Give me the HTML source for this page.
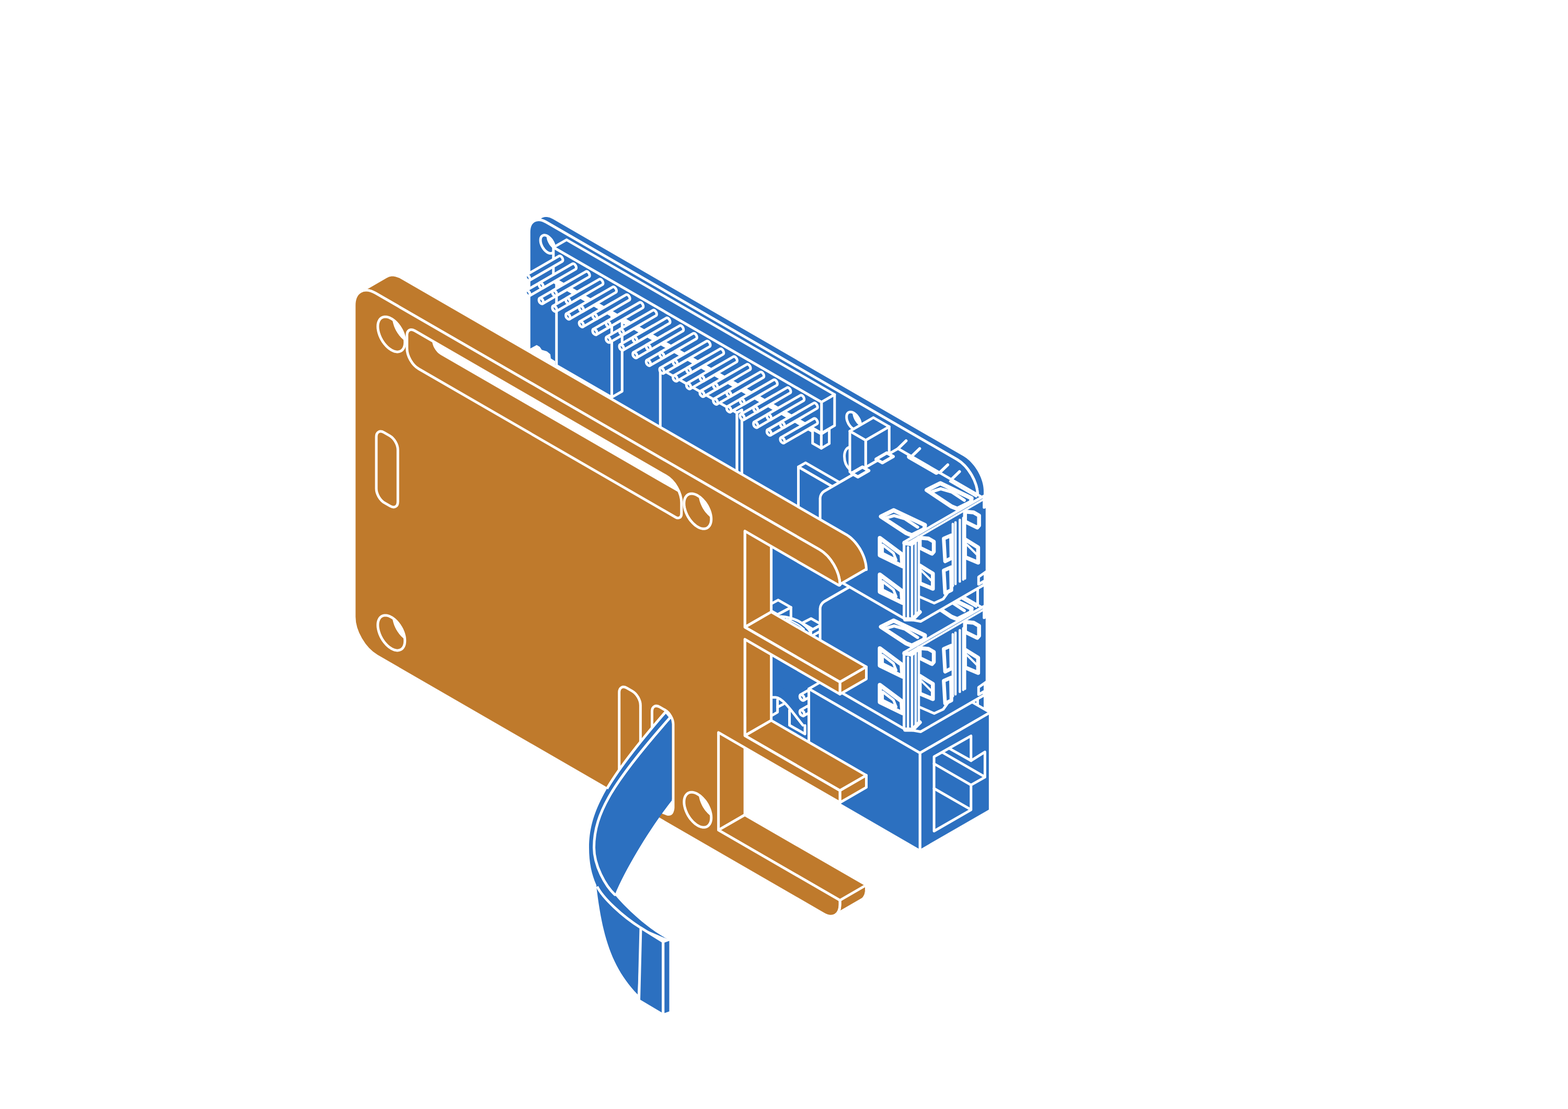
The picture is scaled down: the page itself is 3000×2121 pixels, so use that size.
<!DOCTYPE html>
<html><head><meta charset="utf-8"><title>Raspberry Pi case assembly</title>
<style>html,body{margin:0;padding:0;background:#fff;width:3000px;height:2121px;overflow:hidden}svg{display:block}</style></head>
<body><svg width="3000" height="2121" viewBox="0 0 3000 2121" stroke-linejoin="round" stroke-linecap="round">
<rect width="3000" height="2121" fill="#fff"/>
<path d="M1021.9 422.7 L1023.4 421.9 L1025 421.3 L1026.8 420.9 L1028.5 420.6 L1030.4 420.5 L1032.3 420.6 L1034.3 420.9 L1036.4 421.3 L1038.5 421.9 L1040.7 422.8 L1042.9 423.8 L1045.2 425 L1830.6 878.5 L1833.4 880.2 L1836 882 L1838.7 884.1 L1841.2 886.3 L1843.7 888.6 L1846.2 891.1 L1848.5 893.7 L1850.8 896.4 L1852.9 899.2 L1855 902.1 L1857 905.1 L1858.8 908.2 L1860.6 911.4 L1862.2 914.6 L1863.7 917.9 L1865 921.1 L1866.3 924.5 L1867.4 927.8 L1868.3 931.1 L1869.1 934.4 L1869.7 937.8 L1870.1 941 L1870.4 944.3 L1870.5 947.5 L1870.5 1554.5 L1884.5 1546.4 L1884.5 939.4 L1884.4 936.2 L1884.1 932.9 L1883.7 929.7 L1883.1 926.3 L1882.3 923 L1881.4 919.7 L1880.3 916.4 L1879.1 913 L1877.7 909.8 L1876.2 906.5 L1874.6 903.3 L1872.8 900.1 L1871 897 L1869 894 L1866.9 891.1 L1864.8 888.3 L1862.5 885.6 L1860.2 883 L1857.8 880.5 L1855.3 878.2 L1852.7 876 L1850.1 873.9 L1847.4 872.1 L1844.7 870.4 L1059.2 416.9 L1056.9 415.7 L1054.7 414.7 L1052.6 413.8 L1050.4 413.2 L1048.4 412.8 L1046.4 412.5 L1044.4 412.4 L1042.6 412.5 L1040.8 412.8 L1039.1 413.2 L1037.5 413.8 L1035.9 414.6 Z" fill="#2c70c0" stroke="#fff" stroke-width="5" />
<path d="M1012.2 444 C1012.2 423 1027 414.5 1045.2 425 L1830.6 878.5 C1852.6 891.2 1870.5 922.1 1870.5 947.5 L1870.5 1554.5 L1012.2 1059 Z" fill="#2c70c0" stroke="#fff" stroke-width="5" />
<path d="M1061.1 475 L1061 477 L1060.6 478.8 L1060.1 480.4 L1059.3 481.8 L1058.3 482.9 L1057.1 483.7 L1055.8 484.3 L1054.3 484.6 L1052.8 484.6 L1051.1 484.3 L1049.3 483.7 L1047.6 482.8 L1045.8 481.6 L1044.1 480.2 L1042.4 478.6 L1040.8 476.8 L1039.4 474.8 L1038 472.7 L1036.9 470.5 L1035.9 468.2 L1035.1 466 L1034.5 463.7 L1034.2 461.5 L1034.1 459.4 L1034.2 457.4 L1034.5 455.6 L1035.1 454 L1035.9 452.6 L1036.9 451.5 L1038 450.7 L1039.4 450.1 L1040.8 449.8 L1042.4 449.8 L1044.1 450.1 L1045.8 450.7 L1047.6 451.6 L1049.3 452.8 L1051.1 454.2 L1052.8 455.8 L1054.3 457.6 L1055.8 459.6 L1057.1 461.7 L1058.3 463.9 L1059.3 466.2 L1060.1 468.4 L1060.6 470.7 L1061 472.9 Z" fill="#2c70c0" stroke="none" stroke-width="5" />
<clipPath id="c1"><path d="M1061.1 475 L1061 477 L1060.6 478.8 L1060.1 480.4 L1059.3 481.8 L1058.3 482.9 L1057.1 483.7 L1055.8 484.3 L1054.3 484.6 L1052.8 484.6 L1051.1 484.3 L1049.3 483.7 L1047.6 482.8 L1045.8 481.6 L1044.1 480.2 L1042.4 478.6 L1040.8 476.8 L1039.4 474.8 L1038 472.7 L1036.9 470.5 L1035.9 468.2 L1035.1 466 L1034.5 463.7 L1034.2 461.5 L1034.1 459.4 L1034.2 457.4 L1034.5 455.6 L1035.1 454 L1035.9 452.6 L1036.9 451.5 L1038 450.7 L1039.4 450.1 L1040.8 449.8 L1042.4 449.8 L1044.1 450.1 L1045.8 450.7 L1047.6 451.6 L1049.3 452.8 L1051.1 454.2 L1052.8 455.8 L1054.3 457.6 L1055.8 459.6 L1057.1 461.7 L1058.3 463.9 L1059.3 466.2 L1060.1 468.4 L1060.6 470.7 L1061 472.9 Z"/></clipPath><g clip-path="url(#c1)">
<path d="M1075.1 466.9 L1075 468.9 L1074.7 470.7 L1074.1 472.3 L1073.3 473.7 L1072.3 474.8 L1071.2 475.6 L1069.8 476.2 L1068.4 476.5 L1066.8 476.5 L1065.1 476.2 L1063.4 475.6 L1061.6 474.7 L1059.9 473.5 L1058.1 472.1 L1056.4 470.5 L1054.9 468.7 L1053.4 466.7 L1052.1 464.6 L1050.9 462.4 L1049.9 460.1 L1049.1 457.9 L1048.6 455.6 L1048.2 453.4 L1048.1 451.3 L1048.2 449.3 L1048.6 447.5 L1049.1 445.9 L1049.9 444.5 L1050.9 443.4 L1052.1 442.6 L1053.4 442 L1054.9 441.7 L1056.4 441.7 L1058.1 442 L1059.9 442.6 L1061.6 443.5 L1063.4 444.7 L1065.1 446.1 L1066.8 447.7 L1068.4 449.5 L1069.8 451.5 L1071.2 453.6 L1072.3 455.8 L1073.3 458.1 L1074.1 460.3 L1074.7 462.6 L1075 464.8 Z" fill="#fff" stroke="#fff" stroke-width="5" />
</g>
<path d="M1061.1 475 L1061 477 L1060.6 478.8 L1060.1 480.4 L1059.3 481.8 L1058.3 482.9 L1057.1 483.7 L1055.8 484.3 L1054.3 484.6 L1052.8 484.6 L1051.1 484.3 L1049.3 483.7 L1047.6 482.8 L1045.8 481.6 L1044.1 480.2 L1042.4 478.6 L1040.8 476.8 L1039.4 474.8 L1038 472.7 L1036.9 470.5 L1035.9 468.2 L1035.1 466 L1034.5 463.7 L1034.2 461.5 L1034.1 459.4 L1034.2 457.4 L1034.5 455.6 L1035.1 454 L1035.9 452.6 L1036.9 451.5 L1038 450.7 L1039.4 450.1 L1040.8 449.8 L1042.4 449.8 L1044.1 450.1 L1045.8 450.7 L1047.6 451.6 L1049.3 452.8 L1051.1 454.2 L1052.8 455.8 L1054.3 457.6 L1055.8 459.6 L1057.1 461.7 L1058.3 463.9 L1059.3 466.2 L1060.1 468.4 L1060.6 470.7 L1061 472.9 Z" fill="none" stroke="#fff" stroke-width="5" />
<path d="M1646.7 813.1 L1646.6 815.1 L1646.2 816.9 L1645.7 818.5 L1644.9 819.9 L1643.9 821 L1642.7 821.8 L1641.4 822.4 L1639.9 822.7 L1638.4 822.7 L1636.7 822.4 L1635 821.8 L1633.2 820.9 L1631.4 819.7 L1629.7 818.3 L1628 816.7 L1626.4 814.9 L1625 812.9 L1623.6 810.8 L1622.5 808.6 L1621.5 806.3 L1620.7 804.1 L1620.1 801.8 L1619.8 799.6 L1619.7 797.5 L1619.8 795.5 L1620.1 793.7 L1620.7 792.1 L1621.5 790.7 L1622.5 789.6 L1623.6 788.8 L1625 788.2 L1626.4 787.9 L1628 787.9 L1629.7 788.2 L1631.4 788.8 L1633.2 789.7 L1635 790.9 L1636.7 792.3 L1638.4 793.9 L1639.9 795.7 L1641.4 797.7 L1642.7 799.8 L1643.9 802 L1644.9 804.3 L1645.7 806.5 L1646.2 808.8 L1646.6 811 Z" fill="#2c70c0" stroke="none" stroke-width="5" />
<clipPath id="c2"><path d="M1646.7 813.1 L1646.6 815.1 L1646.2 816.9 L1645.7 818.5 L1644.9 819.9 L1643.9 821 L1642.7 821.8 L1641.4 822.4 L1639.9 822.7 L1638.4 822.7 L1636.7 822.4 L1635 821.8 L1633.2 820.9 L1631.4 819.7 L1629.7 818.3 L1628 816.7 L1626.4 814.9 L1625 812.9 L1623.6 810.8 L1622.5 808.6 L1621.5 806.3 L1620.7 804.1 L1620.1 801.8 L1619.8 799.6 L1619.7 797.5 L1619.8 795.5 L1620.1 793.7 L1620.7 792.1 L1621.5 790.7 L1622.5 789.6 L1623.6 788.8 L1625 788.2 L1626.4 787.9 L1628 787.9 L1629.7 788.2 L1631.4 788.8 L1633.2 789.7 L1635 790.9 L1636.7 792.3 L1638.4 793.9 L1639.9 795.7 L1641.4 797.7 L1642.7 799.8 L1643.9 802 L1644.9 804.3 L1645.7 806.5 L1646.2 808.8 L1646.6 811 Z"/></clipPath><g clip-path="url(#c2)">
<path d="M1660.7 805 L1660.6 807 L1660.3 808.8 L1659.7 810.4 L1658.9 811.8 L1657.9 812.9 L1656.8 813.7 L1655.4 814.3 L1654 814.6 L1652.4 814.6 L1650.7 814.3 L1649 813.7 L1647.2 812.8 L1645.5 811.6 L1643.7 810.2 L1642 808.6 L1640.5 806.8 L1639 804.8 L1637.7 802.7 L1636.5 800.5 L1635.5 798.2 L1634.7 796 L1634.2 793.7 L1633.8 791.5 L1633.7 789.4 L1633.8 787.4 L1634.2 785.6 L1634.7 784 L1635.5 782.6 L1636.5 781.5 L1637.7 780.7 L1639 780.1 L1640.5 779.8 L1642 779.8 L1643.7 780.1 L1645.5 780.7 L1647.2 781.6 L1649 782.8 L1650.7 784.2 L1652.4 785.8 L1654 787.6 L1655.4 789.6 L1656.8 791.7 L1657.9 793.9 L1658.9 796.2 L1659.7 798.4 L1660.3 800.7 L1660.6 802.9 Z" fill="#fff" stroke="#fff" stroke-width="5" />
</g>
<path d="M1646.7 813.1 L1646.6 815.1 L1646.2 816.9 L1645.7 818.5 L1644.9 819.9 L1643.9 821 L1642.7 821.8 L1641.4 822.4 L1639.9 822.7 L1638.4 822.7 L1636.7 822.4 L1635 821.8 L1633.2 820.9 L1631.4 819.7 L1629.7 818.3 L1628 816.7 L1626.4 814.9 L1625 812.9 L1623.6 810.8 L1622.5 808.6 L1621.5 806.3 L1620.7 804.1 L1620.1 801.8 L1619.8 799.6 L1619.7 797.5 L1619.8 795.5 L1620.1 793.7 L1620.7 792.1 L1621.5 790.7 L1622.5 789.6 L1623.6 788.8 L1625 788.2 L1626.4 787.9 L1628 787.9 L1629.7 788.2 L1631.4 788.8 L1633.2 789.7 L1635 790.9 L1636.7 792.3 L1638.4 793.9 L1639.9 795.7 L1641.4 797.7 L1642.7 799.8 L1643.9 802 L1644.9 804.3 L1645.7 806.5 L1646.2 808.8 L1646.6 811 Z" fill="none" stroke="#fff" stroke-width="5" />
<path d="M1014 668 L1027 661 L1032 664 L1036 670 L1046 673 L1052 678 L1053 686 L1061 691 L1061 700 L1014 672 Z" fill="#fff" stroke="#fff" stroke-width="2" />
<path d="M1084.6 527.2 L1190.3 588.2 L1170.4 599.7 L1064.7 538.7 Z" fill="#2c70c0" stroke="#fff" stroke-width="5" />
<path d="M1190.3 588.2 L1190.3 748.3 L1170.4 759.8 L1170.4 599.7 Z" fill="#2c70c0" stroke="#fff" stroke-width="5" />
<path d="M1064.7 538.7 L1170.4 599.7 L1170.4 759.8 L1064.7 698.8 Z" fill="#2c70c0" stroke="#fff" stroke-width="5" />
<path d="M1419.4 784 L1419.4 941 L1409.8 946.5 L1409.8 789.5 Z" fill="#2c70c0" stroke="#fff" stroke-width="5" />
<path d="M1263.3 705 L1409.8 789.5 L1409.8 946.5 L1263.3 862 Z" fill="#2c70c0" stroke="#fff" stroke-width="5" />
<path d="M1541.3 885.1 L1618.5 929.6 L1604.7 937.6 L1527.5 893 Z" fill="#2c70c0" stroke="#fff" stroke-width="5" />
<path d="M1618.5 929.6 L1618.5 1056 L1604.7 1064 L1604.7 937.6 Z" fill="#2c70c0" stroke="#fff" stroke-width="5" />
<path d="M1527.5 893 L1604.7 937.6 L1604.7 1064 L1527.5 1019.4 Z" fill="#2c70c0" stroke="#fff" stroke-width="5" />
<path d="M1084 458.6 L1596.8 754.7 L1571.7 769.2 L1058.8 473.1 Z" fill="#2c70c0" stroke="#fff" stroke-width="5" />
<path d="M1596.8 754.7 L1596.8 813.9 L1571.7 828.4 L1571.7 769.2 Z" fill="#2c70c0" stroke="#fff" stroke-width="5" />
<path d="M1058.8 473.1 L1571.7 769.2 L1571.7 828.4 L1058.8 532.3 Z" fill="#2c70c0" stroke="#fff" stroke-width="5" />
<line x1="1062.3" y1="539.8" x2="1568.2" y2="831.9" stroke="#fff" stroke-width="7" stroke-linecap="round" />
<path d="M1554.7 820.7 L1554.7 847.9 L1571.4 857.3 L1571.4 830 Z" fill="#2c70c0" stroke="#fff" stroke-width="5" />
<path d="M1571.4 830 L1571.4 857.3 L1586.6 848.4 L1586.6 820.7 Z" fill="#2c70c0" stroke="#fff" stroke-width="5" />
<path d="M1012.7 566 L1075.7 529.6 L1076.3 529 L1076.8 528.1 L1076.9 526.9 L1076.8 525.5 L1076.3 524.1 L1075.7 522.7 L1074.8 521.4 L1073.8 520.4 L1072.7 519.5 L1071.6 519.1 L1070.5 519 L1069.7 519.3 L1006.7 555.6" fill="#2c70c0" stroke="#fff" stroke-width="5" />
<circle r="4.9" transform="matrix(0.8660 0.5 0 1 1009.7 560.8)" fill="#2c70c0" stroke="#fff" stroke-width="5" vector-effect="non-scaling-stroke" />
<path d="M1038.4 580.8 L1101.3 544.4 L1102 543.8 L1102.4 542.9 L1102.6 541.7 L1102.4 540.3 L1102 538.9 L1101.3 537.5 L1100.4 536.2 L1099.4 535.2 L1098.3 534.4 L1097.2 533.9 L1096.2 533.8 L1095.3 534.1 L1032.3 570.4" fill="#2c70c0" stroke="#fff" stroke-width="5" />
<circle r="4.9" transform="matrix(0.8660 0.5 0 1 1035.3 575.6)" fill="#2c70c0" stroke="#fff" stroke-width="5" vector-effect="non-scaling-stroke" />
<path d="M1064 595.6 L1127 559.2 L1127.6 558.6 L1128.1 557.7 L1128.2 556.5 L1128.1 555.1 L1127.6 553.7 L1127 552.3 L1126.1 551 L1125.1 550 L1124 549.1 L1122.9 548.7 L1121.8 548.6 L1121 548.9 L1058 585.2" fill="#2c70c0" stroke="#fff" stroke-width="5" />
<circle r="4.9" transform="matrix(0.8660 0.5 0 1 1061 590.4)" fill="#2c70c0" stroke="#fff" stroke-width="5" vector-effect="non-scaling-stroke" />
<path d="M1089.7 610.4 L1152.6 574 L1153.3 573.4 L1153.7 572.5 L1153.9 571.3 L1153.7 569.9 L1153.3 568.5 L1152.6 567.1 L1151.7 565.8 L1150.7 564.8 L1149.6 563.9 L1148.5 563.5 L1147.5 563.4 L1146.6 563.7 L1083.6 600" fill="#2c70c0" stroke="#fff" stroke-width="5" />
<circle r="4.9" transform="matrix(0.8660 0.5 0 1 1086.7 605.2)" fill="#2c70c0" stroke="#fff" stroke-width="5" vector-effect="non-scaling-stroke" />
<path d="M1115.3 625.2 L1178.3 588.8 L1178.9 588.2 L1179.4 587.3 L1179.5 586.1 L1179.4 584.7 L1178.9 583.3 L1178.3 581.9 L1177.4 580.6 L1176.4 579.6 L1175.3 578.8 L1174.2 578.3 L1173.1 578.2 L1172.3 578.5 L1109.3 614.8" fill="#2c70c0" stroke="#fff" stroke-width="5" />
<circle r="4.9" transform="matrix(0.8660 0.5 0 1 1112.3 620)" fill="#2c70c0" stroke="#fff" stroke-width="5" vector-effect="non-scaling-stroke" />
<path d="M1141 640 L1203.9 603.6 L1204.6 603 L1205 602.1 L1205.2 600.9 L1205 599.5 L1204.6 598.1 L1203.9 596.7 L1203 595.4 L1202 594.4 L1200.9 593.5 L1199.8 593.1 L1198.8 593 L1197.9 593.3 L1134.9 629.6" fill="#2c70c0" stroke="#fff" stroke-width="5" />
<circle r="4.9" transform="matrix(0.8660 0.5 0 1 1138 634.8)" fill="#2c70c0" stroke="#fff" stroke-width="5" vector-effect="non-scaling-stroke" />
<path d="M1166.6 654.8 L1229.6 618.4 L1230.2 617.8 L1230.7 616.9 L1230.8 615.7 L1230.7 614.3 L1230.2 612.9 L1229.6 611.5 L1228.7 610.2 L1227.7 609.2 L1226.6 608.4 L1225.5 607.9 L1224.4 607.8 L1223.6 608.1 L1160.6 644.4" fill="#2c70c0" stroke="#fff" stroke-width="5" />
<circle r="4.9" transform="matrix(0.8660 0.5 0 1 1163.6 649.6)" fill="#2c70c0" stroke="#fff" stroke-width="5" vector-effect="non-scaling-stroke" />
<path d="M1192.3 669.6 L1255.2 633.2 L1255.9 632.6 L1256.3 631.7 L1256.5 630.5 L1256.3 629.1 L1255.9 627.7 L1255.2 626.3 L1254.3 625 L1253.3 624 L1252.2 623.1 L1251.1 622.7 L1250.1 622.6 L1249.2 622.9 L1186.2 659.2" fill="#2c70c0" stroke="#fff" stroke-width="5" />
<circle r="4.9" transform="matrix(0.8660 0.5 0 1 1189.2 664.4)" fill="#2c70c0" stroke="#fff" stroke-width="5" vector-effect="non-scaling-stroke" />
<path d="M1217.9 684.4 L1280.9 648 L1281.5 647.4 L1282 646.5 L1282.1 645.3 L1282 643.9 L1281.5 642.5 L1280.9 641.1 L1280 639.8 L1279 638.8 L1277.9 637.9 L1276.8 637.5 L1275.7 637.4 L1274.9 637.7 L1211.9 674" fill="#2c70c0" stroke="#fff" stroke-width="5" />
<circle r="4.9" transform="matrix(0.8660 0.5 0 1 1214.9 679.2)" fill="#2c70c0" stroke="#fff" stroke-width="5" vector-effect="non-scaling-stroke" />
<path d="M1243.6 699.2 L1306.5 662.8 L1307.2 662.2 L1307.6 661.3 L1307.8 660.1 L1307.6 658.7 L1307.2 657.3 L1306.5 655.9 L1305.6 654.6 L1304.6 653.6 L1303.5 652.8 L1302.4 652.3 L1301.4 652.2 L1300.5 652.5 L1237.5 688.8" fill="#2c70c0" stroke="#fff" stroke-width="5" />
<circle r="4.9" transform="matrix(0.8660 0.5 0 1 1240.5 694)" fill="#2c70c0" stroke="#fff" stroke-width="5" vector-effect="non-scaling-stroke" />
<path d="M1269.2 714 L1332.2 677.6 L1332.8 677 L1333.3 676.1 L1333.4 674.9 L1333.3 673.5 L1332.8 672.1 L1332.2 670.7 L1331.3 669.4 L1330.3 668.4 L1329.2 667.5 L1328.1 667.1 L1327 667 L1326.2 667.3 L1263.2 703.6" fill="#2c70c0" stroke="#fff" stroke-width="5" />
<circle r="4.9" transform="matrix(0.8660 0.5 0 1 1266.2 708.8)" fill="#2c70c0" stroke="#fff" stroke-width="5" vector-effect="non-scaling-stroke" />
<path d="M1294.9 728.8 L1357.8 692.4 L1358.5 691.8 L1358.9 690.9 L1359.1 689.7 L1358.9 688.3 L1358.5 686.9 L1357.8 685.5 L1356.9 684.2 L1355.9 683.2 L1354.8 682.4 L1353.7 681.9 L1352.7 681.8 L1351.8 682.1 L1288.8 718.4" fill="#2c70c0" stroke="#fff" stroke-width="5" />
<circle r="4.9" transform="matrix(0.8660 0.5 0 1 1291.8 723.6)" fill="#2c70c0" stroke="#fff" stroke-width="5" vector-effect="non-scaling-stroke" />
<path d="M1320.5 743.6 L1383.5 707.2 L1384.1 706.6 L1384.6 705.7 L1384.7 704.5 L1384.6 703.1 L1384.1 701.7 L1383.5 700.3 L1382.6 699 L1381.6 698 L1380.5 697.1 L1379.4 696.7 L1378.3 696.6 L1377.5 696.9 L1314.5 733.2" fill="#2c70c0" stroke="#fff" stroke-width="5" />
<circle r="4.9" transform="matrix(0.8660 0.5 0 1 1317.5 738.4)" fill="#2c70c0" stroke="#fff" stroke-width="5" vector-effect="non-scaling-stroke" />
<path d="M1346.2 758.4 L1409.1 722 L1409.8 721.4 L1410.2 720.5 L1410.4 719.3 L1410.2 717.9 L1409.8 716.5 L1409.1 715.1 L1408.2 713.8 L1407.2 712.8 L1406.1 711.9 L1405 711.5 L1404 711.4 L1403.1 711.7 L1340.1 748" fill="#2c70c0" stroke="#fff" stroke-width="5" />
<circle r="4.9" transform="matrix(0.8660 0.5 0 1 1343.2 753.2)" fill="#2c70c0" stroke="#fff" stroke-width="5" vector-effect="non-scaling-stroke" />
<path d="M1371.8 773.2 L1434.8 736.8 L1435.4 736.2 L1435.9 735.3 L1436 734.1 L1435.9 732.7 L1435.4 731.3 L1434.8 729.9 L1433.9 728.6 L1432.9 727.6 L1431.8 726.8 L1430.7 726.3 L1429.6 726.2 L1428.8 726.5 L1365.8 762.8" fill="#2c70c0" stroke="#fff" stroke-width="5" />
<circle r="4.9" transform="matrix(0.8660 0.5 0 1 1368.8 768)" fill="#2c70c0" stroke="#fff" stroke-width="5" vector-effect="non-scaling-stroke" />
<path d="M1397.5 788 L1460.4 751.6 L1461.1 751 L1461.5 750.1 L1461.7 748.9 L1461.5 747.5 L1461.1 746.1 L1460.4 744.7 L1459.5 743.4 L1458.5 742.4 L1457.4 741.5 L1456.3 741.1 L1455.3 741 L1454.4 741.3 L1391.4 777.6" fill="#2c70c0" stroke="#fff" stroke-width="5" />
<circle r="4.9" transform="matrix(0.8660 0.5 0 1 1394.5 782.8)" fill="#2c70c0" stroke="#fff" stroke-width="5" vector-effect="non-scaling-stroke" />
<path d="M1423.1 802.8 L1486.1 766.4 L1486.7 765.8 L1487.2 764.9 L1487.3 763.7 L1487.2 762.3 L1486.7 760.9 L1486.1 759.5 L1485.2 758.2 L1484.2 757.2 L1483.1 756.4 L1482 755.9 L1480.9 755.8 L1480.1 756.1 L1417.1 792.4" fill="#2c70c0" stroke="#fff" stroke-width="5" />
<circle r="4.9" transform="matrix(0.8660 0.5 0 1 1420.1 797.6)" fill="#2c70c0" stroke="#fff" stroke-width="5" vector-effect="non-scaling-stroke" />
<path d="M1448.8 817.6 L1511.7 781.2 L1512.4 780.6 L1512.8 779.7 L1513 778.5 L1512.8 777.1 L1512.4 775.7 L1511.7 774.3 L1510.8 773 L1509.8 772 L1508.7 771.1 L1507.6 770.7 L1506.6 770.6 L1505.7 770.9 L1442.7 807.2" fill="#2c70c0" stroke="#fff" stroke-width="5" />
<circle r="4.9" transform="matrix(0.8660 0.5 0 1 1445.8 812.4)" fill="#2c70c0" stroke="#fff" stroke-width="5" vector-effect="non-scaling-stroke" />
<path d="M1474.4 832.4 L1537.4 796 L1538 795.4 L1538.5 794.5 L1538.6 793.3 L1538.5 791.9 L1538 790.5 L1537.4 789.1 L1536.5 787.8 L1535.5 786.8 L1534.4 785.9 L1533.3 785.5 L1532.2 785.4 L1531.4 785.7 L1468.4 822" fill="#2c70c0" stroke="#fff" stroke-width="5" />
<circle r="4.9" transform="matrix(0.8660 0.5 0 1 1471.4 827.2)" fill="#2c70c0" stroke="#fff" stroke-width="5" vector-effect="non-scaling-stroke" />
<path d="M1500.1 847.2 L1563 810.8 L1563.7 810.2 L1564.1 809.3 L1564.3 808.1 L1564.1 806.7 L1563.7 805.3 L1563 803.9 L1562.1 802.6 L1561.1 801.6 L1560 800.8 L1558.9 800.3 L1557.9 800.2 L1557 800.5 L1494 836.8" fill="#2c70c0" stroke="#fff" stroke-width="5" />
<circle r="4.9" transform="matrix(0.8660 0.5 0 1 1497 842)" fill="#2c70c0" stroke="#fff" stroke-width="5" vector-effect="non-scaling-stroke" />
<path d="M1012.7 536.4 L1075.7 500 L1076.3 499.4 L1076.8 498.5 L1076.9 497.3 L1076.8 495.9 L1076.3 494.5 L1075.7 493.1 L1074.8 491.8 L1073.8 490.8 L1072.7 489.9 L1071.6 489.5 L1070.5 489.4 L1069.7 489.7 L1006.7 526" fill="#2c70c0" stroke="#fff" stroke-width="5" />
<circle r="4.9" transform="matrix(0.8660 0.5 0 1 1009.7 531.2)" fill="#2c70c0" stroke="#fff" stroke-width="5" vector-effect="non-scaling-stroke" />
<path d="M1038.4 551.2 L1101.3 514.8 L1102 514.2 L1102.4 513.3 L1102.6 512.1 L1102.4 510.7 L1102 509.3 L1101.3 507.9 L1100.4 506.6 L1099.4 505.6 L1098.3 504.8 L1097.2 504.3 L1096.2 504.2 L1095.3 504.5 L1032.3 540.8" fill="#2c70c0" stroke="#fff" stroke-width="5" />
<circle r="4.9" transform="matrix(0.8660 0.5 0 1 1035.3 546)" fill="#2c70c0" stroke="#fff" stroke-width="5" vector-effect="non-scaling-stroke" />
<path d="M1064 566 L1127 529.6 L1127.6 529 L1128.1 528.1 L1128.2 526.9 L1128.1 525.5 L1127.6 524.1 L1127 522.7 L1126.1 521.4 L1125.1 520.4 L1124 519.5 L1122.9 519.1 L1121.8 519 L1121 519.3 L1058 555.6" fill="#2c70c0" stroke="#fff" stroke-width="5" />
<circle r="4.9" transform="matrix(0.8660 0.5 0 1 1061 560.8)" fill="#2c70c0" stroke="#fff" stroke-width="5" vector-effect="non-scaling-stroke" />
<path d="M1089.7 580.8 L1152.6 544.4 L1153.3 543.8 L1153.7 542.9 L1153.9 541.7 L1153.7 540.3 L1153.3 538.9 L1152.6 537.5 L1151.7 536.2 L1150.7 535.2 L1149.6 534.3 L1148.5 533.9 L1147.5 533.8 L1146.6 534.1 L1083.6 570.4" fill="#2c70c0" stroke="#fff" stroke-width="5" />
<circle r="4.9" transform="matrix(0.8660 0.5 0 1 1086.7 575.6)" fill="#2c70c0" stroke="#fff" stroke-width="5" vector-effect="non-scaling-stroke" />
<path d="M1115.3 595.6 L1178.3 559.2 L1178.9 558.6 L1179.4 557.7 L1179.5 556.5 L1179.4 555.1 L1178.9 553.7 L1178.3 552.3 L1177.4 551 L1176.4 550 L1175.3 549.1 L1174.2 548.7 L1173.1 548.6 L1172.3 548.9 L1109.3 585.2" fill="#2c70c0" stroke="#fff" stroke-width="5" />
<circle r="4.9" transform="matrix(0.8660 0.5 0 1 1112.3 590.4)" fill="#2c70c0" stroke="#fff" stroke-width="5" vector-effect="non-scaling-stroke" />
<path d="M1141 610.4 L1203.9 574 L1204.6 573.4 L1205 572.5 L1205.2 571.3 L1205 569.9 L1204.6 568.5 L1203.9 567.1 L1203 565.8 L1202 564.8 L1200.9 563.9 L1199.8 563.5 L1198.8 563.4 L1197.9 563.7 L1134.9 600" fill="#2c70c0" stroke="#fff" stroke-width="5" />
<circle r="4.9" transform="matrix(0.8660 0.5 0 1 1138 605.2)" fill="#2c70c0" stroke="#fff" stroke-width="5" vector-effect="non-scaling-stroke" />
<path d="M1166.6 625.2 L1229.6 588.8 L1230.2 588.2 L1230.7 587.3 L1230.8 586.1 L1230.7 584.7 L1230.2 583.3 L1229.6 581.9 L1228.7 580.6 L1227.7 579.6 L1226.6 578.8 L1225.5 578.3 L1224.4 578.2 L1223.6 578.5 L1160.6 614.8" fill="#2c70c0" stroke="#fff" stroke-width="5" />
<circle r="4.9" transform="matrix(0.8660 0.5 0 1 1163.6 620)" fill="#2c70c0" stroke="#fff" stroke-width="5" vector-effect="non-scaling-stroke" />
<path d="M1192.3 640 L1255.2 603.6 L1255.9 603 L1256.3 602.1 L1256.5 600.9 L1256.3 599.5 L1255.9 598.1 L1255.2 596.7 L1254.3 595.4 L1253.3 594.4 L1252.2 593.5 L1251.1 593.1 L1250.1 593 L1249.2 593.3 L1186.2 629.6" fill="#2c70c0" stroke="#fff" stroke-width="5" />
<circle r="4.9" transform="matrix(0.8660 0.5 0 1 1189.2 634.8)" fill="#2c70c0" stroke="#fff" stroke-width="5" vector-effect="non-scaling-stroke" />
<path d="M1217.9 654.8 L1280.9 618.4 L1281.5 617.8 L1282 616.9 L1282.1 615.7 L1282 614.3 L1281.5 612.9 L1280.9 611.5 L1280 610.2 L1279 609.2 L1277.9 608.3 L1276.8 607.9 L1275.7 607.8 L1274.9 608.1 L1211.9 644.4" fill="#2c70c0" stroke="#fff" stroke-width="5" />
<circle r="4.9" transform="matrix(0.8660 0.5 0 1 1214.9 649.6)" fill="#2c70c0" stroke="#fff" stroke-width="5" vector-effect="non-scaling-stroke" />
<path d="M1243.6 669.6 L1306.5 633.2 L1307.2 632.6 L1307.6 631.7 L1307.8 630.5 L1307.6 629.1 L1307.2 627.7 L1306.5 626.3 L1305.6 625 L1304.6 624 L1303.5 623.1 L1302.4 622.7 L1301.4 622.6 L1300.5 622.9 L1237.5 659.2" fill="#2c70c0" stroke="#fff" stroke-width="5" />
<circle r="4.9" transform="matrix(0.8660 0.5 0 1 1240.5 664.4)" fill="#2c70c0" stroke="#fff" stroke-width="5" vector-effect="non-scaling-stroke" />
<path d="M1269.2 684.4 L1332.2 648 L1332.8 647.4 L1333.3 646.5 L1333.4 645.3 L1333.3 643.9 L1332.8 642.5 L1332.2 641.1 L1331.3 639.8 L1330.3 638.8 L1329.2 637.9 L1328.1 637.5 L1327 637.4 L1326.2 637.7 L1263.2 674" fill="#2c70c0" stroke="#fff" stroke-width="5" />
<circle r="4.9" transform="matrix(0.8660 0.5 0 1 1266.2 679.2)" fill="#2c70c0" stroke="#fff" stroke-width="5" vector-effect="non-scaling-stroke" />
<path d="M1294.9 699.2 L1357.8 662.8 L1358.5 662.2 L1358.9 661.3 L1359.1 660.1 L1358.9 658.7 L1358.5 657.3 L1357.8 655.9 L1356.9 654.6 L1355.9 653.6 L1354.8 652.8 L1353.7 652.3 L1352.7 652.2 L1351.8 652.5 L1288.8 688.8" fill="#2c70c0" stroke="#fff" stroke-width="5" />
<circle r="4.9" transform="matrix(0.8660 0.5 0 1 1291.8 694)" fill="#2c70c0" stroke="#fff" stroke-width="5" vector-effect="non-scaling-stroke" />
<path d="M1320.5 714 L1383.5 677.6 L1384.1 677 L1384.6 676.1 L1384.7 674.9 L1384.6 673.5 L1384.1 672.1 L1383.5 670.7 L1382.6 669.4 L1381.6 668.4 L1380.5 667.5 L1379.4 667.1 L1378.3 667 L1377.5 667.3 L1314.5 703.6" fill="#2c70c0" stroke="#fff" stroke-width="5" />
<circle r="4.9" transform="matrix(0.8660 0.5 0 1 1317.5 708.8)" fill="#2c70c0" stroke="#fff" stroke-width="5" vector-effect="non-scaling-stroke" />
<path d="M1346.2 728.8 L1409.1 692.4 L1409.8 691.8 L1410.2 690.9 L1410.4 689.7 L1410.2 688.3 L1409.8 686.9 L1409.1 685.5 L1408.2 684.2 L1407.2 683.2 L1406.1 682.3 L1405 681.9 L1404 681.8 L1403.1 682.1 L1340.1 718.4" fill="#2c70c0" stroke="#fff" stroke-width="5" />
<circle r="4.9" transform="matrix(0.8660 0.5 0 1 1343.2 723.6)" fill="#2c70c0" stroke="#fff" stroke-width="5" vector-effect="non-scaling-stroke" />
<path d="M1371.8 743.6 L1434.8 707.2 L1435.4 706.6 L1435.9 705.7 L1436 704.5 L1435.9 703.1 L1435.4 701.7 L1434.8 700.3 L1433.9 699 L1432.9 698 L1431.8 697.1 L1430.7 696.7 L1429.6 696.6 L1428.8 696.9 L1365.8 733.2" fill="#2c70c0" stroke="#fff" stroke-width="5" />
<circle r="4.9" transform="matrix(0.8660 0.5 0 1 1368.8 738.4)" fill="#2c70c0" stroke="#fff" stroke-width="5" vector-effect="non-scaling-stroke" />
<path d="M1397.5 758.4 L1460.4 722 L1461.1 721.4 L1461.5 720.5 L1461.7 719.3 L1461.5 717.9 L1461.1 716.5 L1460.4 715.1 L1459.5 713.8 L1458.5 712.8 L1457.4 711.9 L1456.3 711.5 L1455.3 711.4 L1454.4 711.7 L1391.4 748" fill="#2c70c0" stroke="#fff" stroke-width="5" />
<circle r="4.9" transform="matrix(0.8660 0.5 0 1 1394.5 753.2)" fill="#2c70c0" stroke="#fff" stroke-width="5" vector-effect="non-scaling-stroke" />
<path d="M1423.1 773.2 L1486.1 736.8 L1486.7 736.2 L1487.2 735.3 L1487.3 734.1 L1487.2 732.7 L1486.7 731.3 L1486.1 729.9 L1485.2 728.6 L1484.2 727.6 L1483.1 726.8 L1482 726.3 L1480.9 726.2 L1480.1 726.5 L1417.1 762.8" fill="#2c70c0" stroke="#fff" stroke-width="5" />
<circle r="4.9" transform="matrix(0.8660 0.5 0 1 1420.1 768)" fill="#2c70c0" stroke="#fff" stroke-width="5" vector-effect="non-scaling-stroke" />
<path d="M1448.8 788 L1511.7 751.6 L1512.4 751 L1512.8 750.1 L1513 748.9 L1512.8 747.5 L1512.4 746.1 L1511.7 744.7 L1510.8 743.4 L1509.8 742.4 L1508.7 741.5 L1507.6 741.1 L1506.6 741 L1505.7 741.3 L1442.7 777.6" fill="#2c70c0" stroke="#fff" stroke-width="5" />
<circle r="4.9" transform="matrix(0.8660 0.5 0 1 1445.8 782.8)" fill="#2c70c0" stroke="#fff" stroke-width="5" vector-effect="non-scaling-stroke" />
<path d="M1474.4 802.8 L1537.4 766.4 L1538 765.8 L1538.5 764.9 L1538.6 763.7 L1538.5 762.3 L1538 760.9 L1537.4 759.5 L1536.5 758.2 L1535.5 757.2 L1534.4 756.3 L1533.3 755.9 L1532.2 755.8 L1531.4 756.1 L1468.4 792.4" fill="#2c70c0" stroke="#fff" stroke-width="5" />
<circle r="4.9" transform="matrix(0.8660 0.5 0 1 1471.4 797.6)" fill="#2c70c0" stroke="#fff" stroke-width="5" vector-effect="non-scaling-stroke" />
<path d="M1500.1 817.6 L1563 781.2 L1563.7 780.6 L1564.1 779.7 L1564.3 778.5 L1564.1 777.1 L1563.7 775.7 L1563 774.3 L1562.1 773 L1561.1 772 L1560 771.1 L1558.9 770.7 L1557.9 770.6 L1557 770.9 L1494 807.2" fill="#2c70c0" stroke="#fff" stroke-width="5" />
<circle r="4.9" transform="matrix(0.8660 0.5 0 1 1497 812.4)" fill="#2c70c0" stroke="#fff" stroke-width="5" vector-effect="non-scaling-stroke" />
<path d="M1626 855 C1612 858 1612 885 1626 898" fill="none" stroke="#fff" stroke-width="5" />
<path d="M1671 798.6 L1701.3 816.1 L1656.2 842.1 L1626 824.6 Z" fill="#2c70c0" stroke="#fff" stroke-width="5" />
<path d="M1701.3 816.1 L1701.3 893.8 L1656.2 919.8 L1656.2 842.1 Z" fill="#2c70c0" stroke="#fff" stroke-width="5" />
<path d="M1626 824.6 L1656.2 842.1 L1656.2 919.8 L1626 902.4 Z" fill="#2c70c0" stroke="#fff" stroke-width="5" />
<path d="M1470 1300 L1560 1350 L1560 1440 L1470 1390 Z" fill="#2c70c0" stroke="none" stroke-width="5" />
<path d="M1463.6 1161.3 L1488.8 1147.6 L1513.3 1161.7 L1488 1175.3 Z" fill="#2c70c0" stroke="#fff" stroke-width="5" />
<path d="M1513.3 1161.7 L1513.3 1184.1 L1488 1197.7 L1488 1175.3 Z" fill="#2c70c0" stroke="#fff" stroke-width="5" />
<path d="M1493.7 1178.9 Q1519.3 1180.9 1534.5 1192.1 T1551.3 1211.3" fill="none" stroke="#fff" stroke-width="5" />
<path d="M1504.9 1184.1 Q1524.1 1190.5 1538.5 1203.3" fill="none" stroke="#fff" stroke-width="3" />
<path d="M1534.5 1191.7 L1551.7 1182.9 L1572.2 1194.5 L1555.4 1203.7 Z" fill="#2c70c0" stroke="#fff" stroke-width="5" />
<path d="M1572.2 1194.5 L1572.2 1205.7 L1551.3 1217.4 L1551.3 1206.1 L1555.4 1203.7 Z" fill="#2c70c0" stroke="#fff" stroke-width="5" />
<path d="M1476 1333.7 L1484 1333.7 C1498.5 1334.9 1516.1 1362.1 1536.1 1387" fill="none" stroke="#fff" stroke-width="5" />
<path d="M1487.6 1338.9 L1487.6 1362.1 L1476 1368.9" fill="none" stroke="#fff" stroke-width="5" />
<line x1="1487.6" y1="1352.5" x2="1498.5" y2="1346.9" stroke="#fff" stroke-width="5" stroke-linecap="round" />
<path d="M1510.5 1358.1 L1510.5 1387 L1540.1 1403.8 L1540.1 1387.4" fill="none" stroke="#fff" stroke-width="5" />
<path d="M1537.5 1339.6 L1551.5 1331.6 L1545.5 1320.6 L1531.5 1328.6" fill="#2c70c0" stroke="#fff" stroke-width="5" />
<circle r="5" transform="matrix(0.8660 0.5 0 1 1534.5 1334.1)" fill="#2c70c0" stroke="#fff" stroke-width="5" vector-effect="non-scaling-stroke" />
<path d="M1537.5 1369.2 L1551.5 1361.2 L1545.5 1350.2 L1531.5 1358.2" fill="#2c70c0" stroke="#fff" stroke-width="5" />
<circle r="5" transform="matrix(0.8660 0.5 0 1 1534.5 1363.7)" fill="#2c70c0" stroke="#fff" stroke-width="5" vector-effect="non-scaling-stroke" />
<path d="M1681.7 1239.9 L1894.4 1362.7 L1760.1 1440.2 L1547.5 1317.4 Z" fill="#2c70c0" stroke="#fff" stroke-width="5" />
<path d="M1894.4 1362.7 L1894.4 1549.8 L1760.1 1627.3 L1760.1 1440.2 Z" fill="#2c70c0" stroke="#fff" stroke-width="5" />
<path d="M1547.5 1317.4 L1760.1 1440.2 L1760.1 1627.3 L1547.5 1504.5 Z" fill="#2c70c0" stroke="#fff" stroke-width="5" />
<path d="M1787.1 1447.3 L1857.8 1407.4 L1857.8 1454.8 L1884.4 1438.2 L1884.4 1486.4 L1857.8 1501.4 L1857.8 1548.8 L1787.1 1589.5 Z" fill="#2c70c0" stroke="#fff" stroke-width="5" />
<line x1="1787.1" y1="1460.6" x2="1857.8" y2="1501.4" stroke="#fff" stroke-width="5" stroke-linecap="round" />
<line x1="1804.6" y1="1439.9" x2="1882.7" y2="1484.8" stroke="#fff" stroke-width="5" stroke-linecap="round" />
<line x1="1817.9" y1="1432.4" x2="1857.8" y2="1454.8" stroke="#fff" stroke-width="5" stroke-linecap="round" />
<line x1="1787.1" y1="1508" x2="1856.1" y2="1547.6" stroke="#fff" stroke-width="5" stroke-linecap="round" />
<path d="M1718.1 1069 L1878.8 1161.8 L1729.8 1247.8 L1729.8 1393.8 L1569.1 1301 L1569.1 1164 C1569.1 1159 1572.6 1153 1576.9 1150.5 Z" fill="#2c70c0" stroke="#fff" stroke-width="5" />
<line x1="1718.1" y1="1069" x2="1733.6" y2="1054" stroke="#fff" stroke-width="5.5" stroke-linecap="round" />
<line x1="1744" y1="1084" x2="1759.6" y2="1069" stroke="#fff" stroke-width="5.5" stroke-linecap="round" />
<line x1="1797.7" y1="1115" x2="1813.3" y2="1100" stroke="#fff" stroke-width="5.5" stroke-linecap="round" />
<line x1="1820.3" y1="1128" x2="1835.8" y2="1113" stroke="#fff" stroke-width="5.5" stroke-linecap="round" />
<line x1="1739.7" y1="1084.5" x2="1791.7" y2="1114.5" stroke="#fff" stroke-width="9" stroke-linecap="round" />
<line x1="1817.7" y1="1131.5" x2="1867.9" y2="1160.5" stroke="#fff" stroke-width="4" stroke-linecap="round" />
<path d="M1696.8 1077.2 L1709 1084.2 L1688.2 1096.2 L1676.1 1089.2 Z" fill="#2c70c0" stroke="#fff" stroke-width="6" />
<path d="M1650.1 1104.2 L1662.2 1111.2 L1641.4 1123.2 L1629.3 1116.2 Z" fill="#2c70c0" stroke="#fff" stroke-width="6" />
<path d="M1685.6 1198.8 L1709.8 1186.8 L1769.6 1215.2 L1768.7 1222.8 L1744.5 1234.8 L1733.2 1230.2 Z" fill="#2c70c0" stroke="#fff" stroke-width="8" />
<path d="M1696.8 1201.2 L1710.7 1197.2 L1731.5 1203.2 L1755.7 1219.2" fill="none" stroke="#fff" stroke-width="6" />
<path d="M1773.1 1148.2 L1799 1135.2 L1858.8 1163.8 L1857.9 1171.2 L1831.9 1184.2 L1820.7 1179.8 Z" fill="#2c70c0" stroke="#fff" stroke-width="8" />
<path d="M1784.3 1150.8 L1799.9 1145.8 L1820.7 1151.8 L1844.9 1167.8" fill="none" stroke="#fff" stroke-width="6" />
<path d="M1683.4 1240 L1725 1271 L1726.7 1294 L1683.4 1273 Z" fill="#2c70c0" stroke="#fff" stroke-width="8" />
<path d="M1688.6 1253 L1709.4 1269 L1714.6 1282 L1688.6 1269 Z" fill="none" stroke="#fff" stroke-width="5" />
<path d="M1683.4 1310 L1725 1341 L1726.7 1364 L1683.4 1343 Z" fill="#2c70c0" stroke="#fff" stroke-width="8" />
<path d="M1688.6 1323 L1709.4 1339 L1714.6 1352 L1688.6 1339 Z" fill="none" stroke="#fff" stroke-width="5" />
<path d="M1729.8 1247.8 L1882.7 1159.5 L1882.7 1181.5 L1888.3 1178.3 L1888.3 1303.3 L1872.3 1314.5 L1872.3 1328.5 L1882.7 1322.5 L1882.7 1329.5 L1761.4 1399.5 L1729.8 1393.8 Z" fill="#2c70c0" stroke="#fff" stroke-width="5" />
<line x1="1736.8" y1="1249.8" x2="1882.7" y2="1165.5" stroke="#fff" stroke-width="4" stroke-linecap="round" />
<line x1="1737.2" y1="1257.5" x2="1737.2" y2="1394.5" stroke="#fff" stroke-width="4.5" stroke-linecap="round" />
<line x1="1745" y1="1253" x2="1745" y2="1390" stroke="#fff" stroke-width="4.5" stroke-linecap="round" />
<line x1="1751.9" y1="1249" x2="1751.9" y2="1386" stroke="#fff" stroke-width="4.5" stroke-linecap="round" />
<line x1="1758" y1="1245.5" x2="1758" y2="1382.5" stroke="#fff" stroke-width="4.5" stroke-linecap="round" />
<path d="M1730.3 1249.5 L1744.1 1251.5 L1758 1239.5" fill="none" stroke="#fff" stroke-width="8" />
<path d="M1732 1395.5 L1745.9 1395.5 L1759.7 1381.5" fill="none" stroke="#fff" stroke-width="8" />
<line x1="1822.9" y1="1213" x2="1822.9" y2="1331" stroke="#fff" stroke-width="4.5" stroke-linecap="round" />
<line x1="1828.1" y1="1210" x2="1828.1" y2="1328" stroke="#fff" stroke-width="4.5" stroke-linecap="round" />
<line x1="1836.4" y1="1205.3" x2="1836.4" y2="1323.3" stroke="#fff" stroke-width="4.5" stroke-linecap="round" />
<line x1="1842.9" y1="1201.5" x2="1842.9" y2="1319.5" stroke="#fff" stroke-width="4.5" stroke-linecap="round" />
<line x1="1846.3" y1="1199.5" x2="1846.3" y2="1317.5" stroke="#fff" stroke-width="4.5" stroke-linecap="round" />
<path d="M1759.7 1352.5 L1787.4 1364.5 L1804.7 1356.5 L1822.9 1331" fill="none" stroke="#fff" stroke-width="5" />
<path d="M1759.7 1239.5 L1776.2 1241 L1786.6 1247 L1786.6 1266 L1783.1 1270 L1759.7 1258.5 Z" fill="#2c70c0" stroke="#fff" stroke-width="7.5" />
<path d="M1759.7 1292.5 L1784.8 1308 L1784.8 1337 L1759.7 1326.5 Z" fill="#2c70c0" stroke="#fff" stroke-width="7.5" />
<line x1="1763.2" y1="1302.5" x2="1782.2" y2="1321.5" stroke="#fff" stroke-width="4" stroke-linecap="round" />
<path d="M1846.3 1189.5 L1862.8 1191 L1873.2 1197 L1873.2 1216 L1869.7 1220 L1846.3 1208.5 Z" fill="#2c70c0" stroke="#fff" stroke-width="7.5" />
<path d="M1846.3 1242.5 L1871.4 1258 L1871.4 1287 L1846.3 1276.5 Z" fill="#2c70c0" stroke="#fff" stroke-width="7.5" />
<line x1="1849.8" y1="1252.5" x2="1868.8" y2="1271.5" stroke="#fff" stroke-width="4" stroke-linecap="round" />
<path d="M1805.6 1241 L1819.5 1235 L1820.3 1278.5 L1808.2 1284.5 Z" fill="#2c70c0" stroke="#fff" stroke-width="7" />
<path d="M1805.6 1302 L1819.5 1296 L1820.3 1339.5 L1808.2 1345.5 Z" fill="#2c70c0" stroke="#fff" stroke-width="7" />
<path d="M1718.1 858 L1878.8 950.8 L1729.8 1036.8 L1729.8 1182.8 L1569.1 1090 L1569.1 953 C1569.1 948 1572.6 942 1576.9 939.5 Z" fill="#2c70c0" stroke="#fff" stroke-width="5" />
<line x1="1718.1" y1="858" x2="1733.6" y2="843" stroke="#fff" stroke-width="5.5" stroke-linecap="round" />
<line x1="1744" y1="873" x2="1759.6" y2="858" stroke="#fff" stroke-width="5.5" stroke-linecap="round" />
<line x1="1797.7" y1="904" x2="1813.3" y2="889" stroke="#fff" stroke-width="5.5" stroke-linecap="round" />
<line x1="1820.3" y1="917" x2="1835.8" y2="902" stroke="#fff" stroke-width="5.5" stroke-linecap="round" />
<line x1="1739.7" y1="873.5" x2="1791.7" y2="903.5" stroke="#fff" stroke-width="9" stroke-linecap="round" />
<line x1="1817.7" y1="920.5" x2="1867.9" y2="949.5" stroke="#fff" stroke-width="4" stroke-linecap="round" />
<path d="M1696.8 866.2 L1709 873.2 L1688.2 885.2 L1676.1 878.2 Z" fill="#2c70c0" stroke="#fff" stroke-width="6" />
<path d="M1650.1 893.2 L1662.2 900.2 L1641.4 912.2 L1629.3 905.2 Z" fill="#2c70c0" stroke="#fff" stroke-width="6" />
<path d="M1685.6 987.8 L1709.8 975.8 L1769.6 1004.2 L1768.7 1011.8 L1744.5 1023.8 L1733.2 1019.2 Z" fill="#2c70c0" stroke="#fff" stroke-width="8" />
<path d="M1696.8 990.2 L1710.7 986.2 L1731.5 992.2 L1755.7 1008.2" fill="none" stroke="#fff" stroke-width="6" />
<path d="M1773.1 937.2 L1799 924.2 L1858.8 952.8 L1857.9 960.2 L1831.9 973.2 L1820.7 968.8 Z" fill="#2c70c0" stroke="#fff" stroke-width="8" />
<path d="M1784.3 939.8 L1799.9 934.8 L1820.7 940.8 L1844.9 956.8" fill="none" stroke="#fff" stroke-width="6" />
<path d="M1683.4 1029 L1725 1060 L1726.7 1083 L1683.4 1062 Z" fill="#2c70c0" stroke="#fff" stroke-width="8" />
<path d="M1688.6 1042 L1709.4 1058 L1714.6 1071 L1688.6 1058 Z" fill="none" stroke="#fff" stroke-width="5" />
<path d="M1683.4 1099 L1725 1130 L1726.7 1153 L1683.4 1132 Z" fill="#2c70c0" stroke="#fff" stroke-width="8" />
<path d="M1688.6 1112 L1709.4 1128 L1714.6 1141 L1688.6 1128 Z" fill="none" stroke="#fff" stroke-width="5" />
<path d="M1729.8 1036.8 L1882.7 948.5 L1882.7 970.5 L1888.3 967.3 L1888.3 1092.3 L1872.3 1103.5 L1872.3 1117.5 L1882.7 1111.5 L1882.7 1118.5 L1761.4 1188.5 L1729.8 1182.8 Z" fill="#2c70c0" stroke="#fff" stroke-width="5" />
<line x1="1736.8" y1="1038.8" x2="1882.7" y2="954.5" stroke="#fff" stroke-width="4" stroke-linecap="round" />
<line x1="1737.2" y1="1046.5" x2="1737.2" y2="1183.5" stroke="#fff" stroke-width="4.5" stroke-linecap="round" />
<line x1="1745" y1="1042" x2="1745" y2="1179" stroke="#fff" stroke-width="4.5" stroke-linecap="round" />
<line x1="1751.9" y1="1038" x2="1751.9" y2="1175" stroke="#fff" stroke-width="4.5" stroke-linecap="round" />
<line x1="1758" y1="1034.5" x2="1758" y2="1171.5" stroke="#fff" stroke-width="4.5" stroke-linecap="round" />
<path d="M1730.3 1038.5 L1744.1 1040.5 L1758 1028.5" fill="none" stroke="#fff" stroke-width="8" />
<path d="M1732 1184.5 L1745.9 1184.5 L1759.7 1170.5" fill="none" stroke="#fff" stroke-width="8" />
<line x1="1822.9" y1="1002" x2="1822.9" y2="1120" stroke="#fff" stroke-width="4.5" stroke-linecap="round" />
<line x1="1828.1" y1="999" x2="1828.1" y2="1117" stroke="#fff" stroke-width="4.5" stroke-linecap="round" />
<line x1="1836.4" y1="994.3" x2="1836.4" y2="1112.3" stroke="#fff" stroke-width="4.5" stroke-linecap="round" />
<line x1="1842.9" y1="990.5" x2="1842.9" y2="1108.5" stroke="#fff" stroke-width="4.5" stroke-linecap="round" />
<line x1="1846.3" y1="988.5" x2="1846.3" y2="1106.5" stroke="#fff" stroke-width="4.5" stroke-linecap="round" />
<path d="M1759.7 1141.5 L1787.4 1153.5 L1804.7 1145.5 L1822.9 1120" fill="none" stroke="#fff" stroke-width="5" />
<path d="M1759.7 1028.5 L1776.2 1030 L1786.6 1036 L1786.6 1055 L1783.1 1059 L1759.7 1047.5 Z" fill="#2c70c0" stroke="#fff" stroke-width="7.5" />
<path d="M1759.7 1081.5 L1784.8 1097 L1784.8 1126 L1759.7 1115.5 Z" fill="#2c70c0" stroke="#fff" stroke-width="7.5" />
<line x1="1763.2" y1="1091.5" x2="1782.2" y2="1110.5" stroke="#fff" stroke-width="4" stroke-linecap="round" />
<path d="M1846.3 978.5 L1862.8 980 L1873.2 986 L1873.2 1005 L1869.7 1009 L1846.3 997.5 Z" fill="#2c70c0" stroke="#fff" stroke-width="7.5" />
<path d="M1846.3 1031.5 L1871.4 1047 L1871.4 1076 L1846.3 1065.5 Z" fill="#2c70c0" stroke="#fff" stroke-width="7.5" />
<line x1="1849.8" y1="1041.5" x2="1868.8" y2="1060.5" stroke="#fff" stroke-width="4" stroke-linecap="round" />
<path d="M1805.6 1030 L1819.5 1024 L1820.3 1067.5 L1808.2 1073.5 Z" fill="#2c70c0" stroke="#fff" stroke-width="7" />
<path d="M1805.6 1091 L1819.5 1085 L1820.3 1128.5 L1808.2 1134.5 Z" fill="#2c70c0" stroke="#fff" stroke-width="7" />
<path d="M1425.1 1015.7 L1475.6 986.6 L1475.6 1170.4 L1425.1 1199.5 Z" fill="#bf7a2c" stroke="#fff" stroke-width="5" />
<path d="M1425.1 1222.7 L1475.6 1193.6 L1475.6 1377.9 L1425.1 1407 Z" fill="#bf7a2c" stroke="#fff" stroke-width="5" />
<path d="M1374.6 1400.9 L1425.1 1371.7 L1425.1 1558.5 L1374.6 1587.7 Z" fill="#bf7a2c" stroke="#fff" stroke-width="5" />
<path d="M1425.1 1199.5 L1475.6 1170.4 L1657.5 1275.4 L1607 1304.5 Z" fill="#bf7a2c" stroke="#fff" stroke-width="5" />
<path d="M1607 1304.5 L1657.5 1275.4 L1657.5 1298.6 L1607 1327.7 Z" fill="#bf7a2c" stroke="#fff" stroke-width="5" />
<path d="M1425.1 1407 L1475.6 1377.9 L1657.5 1482.9 L1607 1512 Z" fill="#bf7a2c" stroke="#fff" stroke-width="5" />
<path d="M1607 1512 L1657.5 1482.9 L1657.5 1505.9 L1607 1535 Z" fill="#bf7a2c" stroke="#fff" stroke-width="5" />
<path d="M1374.6 1587.7 L1605.3 1720.8 L1605.4 1720.9 L1605.5 1721 L1605.6 1721 L1605.7 1721.1 L1605.8 1721.2 L1605.9 1721.3 L1606 1721.5 L1606.1 1721.6 L1606.2 1721.7 L1606.3 1721.8 L1606.4 1722 L1606.5 1722.1 L1606.6 1722.2 L1606.6 1722.4 L1606.7 1722.5 L1606.8 1722.7 L1606.8 1722.8 L1606.9 1722.9 L1606.9 1723.1 L1606.9 1723.2 L1607 1723.4 L1607 1723.5 L1607 1723.7 L1607 1723.8 L1607 1729.9 L1606.9 1732.3 L1606.7 1734.6 L1606.4 1736.8 L1605.9 1738.8 L1605.3 1740.7 L1604.5 1742.5 L1603.7 1744.1 L1602.7 1745.6 L1601.7 1747 L1600.5 1748.1 L1599.2 1749.2 L1649.7 1720 L1651 1719 L1652.2 1717.8 L1653.2 1716.5 L1654.2 1715 L1655 1713.3 L1655.8 1711.6 L1656.4 1709.7 L1656.9 1707.6 L1657.2 1705.5 L1657.4 1703.2 L1657.5 1700.8 L1657.5 1694.7 L1657.5 1694.5 L1657.5 1694.4 L1657.4 1694.2 L1657.4 1694.1 L1657.4 1693.9 L1657.3 1693.8 L1657.3 1693.6 L1657.2 1693.5 L1657.2 1693.4 L1657.1 1693.2 L1657.1 1693.1 L1657 1692.9 L1656.9 1692.8 L1656.8 1692.7 L1656.7 1692.6 L1656.6 1692.4 L1656.5 1692.3 L1656.4 1692.2 L1656.3 1692.1 L1656.2 1692 L1656.1 1691.9 L1656 1691.8 L1655.9 1691.7 L1655.8 1691.7 L1425.1 1558.5 Z" fill="#bf7a2c" stroke="#fff" stroke-width="5" />
<line x1="1607" y1="1721.8" x2="1657.5" y2="1692.7" stroke="#fff" stroke-width="5" stroke-linecap="round" />
<path d="M689.7 557.8 L691.6 556.9 L693.6 556.1 L695.7 555.6 L697.9 555.3 L700.2 555.1 L702.6 555.2 L705.1 555.6 L707.6 556.1 L710.2 556.9 L712.9 557.9 L715.7 559.2 L718.5 560.7 L1568 1051.2 L1570.7 1052.8 L1573.3 1054.7 L1575.9 1056.6 L1578.4 1058.8 L1580.8 1061.1 L1583.2 1063.5 L1585.5 1066 L1587.7 1068.7 L1589.8 1071.5 L1591.8 1074.3 L1593.8 1077.3 L1595.6 1080.3 L1597.3 1083.4 L1598.9 1086.5 L1600.3 1089.7 L1601.7 1092.9 L1602.9 1096.2 L1603.9 1099.4 L1604.8 1102.7 L1605.6 1105.9 L1606.2 1109.2 L1606.6 1112.4 L1606.9 1115.6 L1607 1118.7 L1607 1117.7 L1657.5 1088.5 L1657.5 1089.5 L1657.4 1086.4 L1657.1 1083.2 L1656.7 1080 L1656.1 1076.8 L1655.3 1073.5 L1654.4 1070.3 L1653.4 1067 L1652.2 1063.8 L1650.8 1060.5 L1649.4 1057.4 L1647.8 1054.2 L1646.1 1051.1 L1644.3 1048.1 L1642.3 1045.2 L1640.3 1042.3 L1638.2 1039.6 L1636 1036.9 L1633.7 1034.3 L1631.3 1031.9 L1628.9 1029.6 L1626.4 1027.5 L1623.8 1025.5 L1621.2 1023.7 L1618.5 1022.1 L768.9 531.6 L766.2 530 L763.4 528.8 L760.7 527.8 L758.1 527 L755.6 526.4 L753.1 526.1 L750.7 526 L748.4 526.1 L746.2 526.4 L744.1 527 L742.1 527.7 L740.2 528.7 Z" fill="#bf7a2c" stroke="#fff" stroke-width="5" />
<path d="M677.8 584.2 C677.8 558.2 696 547.7 718.5 560.7 L1568 1051.2 C1589.5 1063.6 1607 1093.8 1607 1118.7 L1607 1117.7 C1607 1119.4 1605.8 1120 1604.4 1119.2 L1425.1 1015.7 L1425.1 1199.5 L1607 1304.5 L1607 1327.7 L1425.1 1222.7 L1425.1 1407 L1607 1512 L1607 1532 C1607 1533.7 1605.8 1534.3 1604.4 1533.5 L1374.6 1400.9 L1374.6 1587.7 L1605.3 1720.8 C1606.2 1721.4 1607 1722.7 1607 1723.8 L1607 1729.9 C1607 1749.8 1593 1757.8 1575.8 1747.9 L721.1 1254.4 C697.1 1240.6 677.8 1207 677.8 1179.4 Z" fill="#bf7a2c" stroke="#fff" stroke-width="5" />
<path d="M774.7 654.4 L774.5 658.2 L773.9 661.7 L772.8 664.7 L771.3 667.4 L769.4 669.6 L767.1 671.2 L764.6 672.3 L761.8 672.9 L758.7 672.9 L755.5 672.3 L752.2 671.1 L748.8 669.4 L745.4 667.2 L742 664.5 L738.8 661.4 L735.8 657.9 L732.9 654.1 L730.4 650 L728.2 645.8 L726.3 641.4 L724.8 637 L723.7 632.7 L723 628.4 L722.8 624.4 L723 620.6 L723.7 617.1 L724.8 614.1 L726.3 611.4 L728.2 609.2 L730.4 607.6 L732.9 606.5 L735.8 605.9 L738.8 605.9 L742 606.5 L745.4 607.7 L748.8 609.4 L752.2 611.6 L755.5 614.3 L758.7 617.4 L761.8 620.9 L764.6 624.7 L767.1 628.8 L769.4 633 L771.3 637.4 L772.8 641.8 L773.9 646.1 L774.5 650.4 Z" fill="#bf7a2c" stroke="none" stroke-width="5" />
<clipPath id="c3"><path d="M774.7 654.4 L774.5 658.2 L773.9 661.7 L772.8 664.7 L771.3 667.4 L769.4 669.6 L767.1 671.2 L764.6 672.3 L761.8 672.9 L758.7 672.9 L755.5 672.3 L752.2 671.1 L748.8 669.4 L745.4 667.2 L742 664.5 L738.8 661.4 L735.8 657.9 L732.9 654.1 L730.4 650 L728.2 645.8 L726.3 641.4 L724.8 637 L723.7 632.7 L723 628.4 L722.8 624.4 L723 620.6 L723.7 617.1 L724.8 614.1 L726.3 611.4 L728.2 609.2 L730.4 607.6 L732.9 606.5 L735.8 605.9 L738.8 605.9 L742 606.5 L745.4 607.7 L748.8 609.4 L752.2 611.6 L755.5 614.3 L758.7 617.4 L761.8 620.9 L764.6 624.7 L767.1 628.8 L769.4 633 L771.3 637.4 L772.8 641.8 L773.9 646.1 L774.5 650.4 Z"/></clipPath><g clip-path="url(#c3)">
<path d="M805.1 636.9 L804.8 640.7 L804.2 644.2 L803.1 647.2 L801.6 649.9 L799.7 652.1 L797.4 653.7 L794.9 654.8 L792.1 655.4 L789 655.4 L785.8 654.8 L782.5 653.6 L779.1 651.9 L775.7 649.7 L772.4 647 L769.1 643.9 L766.1 640.4 L763.3 636.6 L760.7 632.5 L758.5 628.3 L756.6 623.9 L755.1 619.5 L754 615.2 L753.3 610.9 L753.1 606.9 L753.3 603.1 L754 599.6 L755.1 596.6 L756.6 593.9 L758.5 591.7 L760.7 590.1 L763.3 589 L766.1 588.4 L769.1 588.4 L772.4 589 L775.7 590.2 L779.1 591.9 L782.5 594.1 L785.8 596.8 L789 599.9 L792.1 603.4 L794.9 607.2 L797.4 611.3 L799.7 615.5 L801.6 619.9 L803.1 624.3 L804.2 628.6 L804.8 632.9 Z" fill="#fff" stroke="#fff" stroke-width="5" />
</g>
<path d="M774.7 654.4 L774.5 658.2 L773.9 661.7 L772.8 664.7 L771.3 667.4 L769.4 669.6 L767.1 671.2 L764.6 672.3 L761.8 672.9 L758.7 672.9 L755.5 672.3 L752.2 671.1 L748.8 669.4 L745.4 667.2 L742 664.5 L738.8 661.4 L735.8 657.9 L732.9 654.1 L730.4 650 L728.2 645.8 L726.3 641.4 L724.8 637 L723.7 632.7 L723 628.4 L722.8 624.4 L723 620.6 L723.7 617.1 L724.8 614.1 L726.3 611.4 L728.2 609.2 L730.4 607.6 L732.9 606.5 L735.8 605.9 L738.8 605.9 L742 606.5 L745.4 607.7 L748.8 609.4 L752.2 611.6 L755.5 614.3 L758.7 617.4 L761.8 620.9 L764.6 624.7 L767.1 628.8 L769.4 633 L771.3 637.4 L772.8 641.8 L773.9 646.1 L774.5 650.4 Z" fill="none" stroke="#fff" stroke-width="5" />
<path d="M1360.8 992.8 L1360.6 996.5 L1359.9 1000 L1358.8 1003.1 L1357.3 1005.7 L1355.4 1007.9 L1353.2 1009.6 L1350.6 1010.7 L1347.8 1011.2 L1344.7 1011.2 L1341.5 1010.6 L1338.2 1009.5 L1334.8 1007.8 L1331.4 1005.5 L1328.1 1002.8 L1324.9 999.7 L1321.8 996.2 L1319 992.4 L1316.4 988.4 L1314.2 984.1 L1312.3 979.8 L1310.8 975.4 L1309.7 971 L1309 966.8 L1308.8 962.8 L1309 959 L1309.7 955.5 L1310.8 952.4 L1312.3 949.8 L1314.2 947.6 L1316.4 945.9 L1319 944.8 L1321.8 944.3 L1324.9 944.3 L1328.1 944.9 L1331.4 946 L1334.8 947.8 L1338.2 950 L1341.5 952.7 L1344.7 955.8 L1347.8 959.3 L1350.6 963.1 L1353.2 967.1 L1355.4 971.4 L1357.3 975.7 L1358.8 980.1 L1359.9 984.5 L1360.6 988.7 Z" fill="#bf7a2c" stroke="none" stroke-width="5" />
<clipPath id="c4"><path d="M1360.8 992.8 L1360.6 996.5 L1359.9 1000 L1358.8 1003.1 L1357.3 1005.7 L1355.4 1007.9 L1353.2 1009.6 L1350.6 1010.7 L1347.8 1011.2 L1344.7 1011.2 L1341.5 1010.6 L1338.2 1009.5 L1334.8 1007.8 L1331.4 1005.5 L1328.1 1002.8 L1324.9 999.7 L1321.8 996.2 L1319 992.4 L1316.4 988.4 L1314.2 984.1 L1312.3 979.8 L1310.8 975.4 L1309.7 971 L1309 966.8 L1308.8 962.8 L1309 959 L1309.7 955.5 L1310.8 952.4 L1312.3 949.8 L1314.2 947.6 L1316.4 945.9 L1319 944.8 L1321.8 944.3 L1324.9 944.3 L1328.1 944.9 L1331.4 946 L1334.8 947.8 L1338.2 950 L1341.5 952.7 L1344.7 955.8 L1347.8 959.3 L1350.6 963.1 L1353.2 967.1 L1355.4 971.4 L1357.3 975.7 L1358.8 980.1 L1359.9 984.5 L1360.6 988.7 Z"/></clipPath><g clip-path="url(#c4)">
<path d="M1391.1 975.3 L1390.9 979 L1390.2 982.5 L1389.1 985.6 L1387.6 988.2 L1385.7 990.4 L1383.5 992.1 L1380.9 993.2 L1378.1 993.7 L1375.1 993.7 L1371.8 993.1 L1368.5 992 L1365.1 990.3 L1361.7 988 L1358.4 985.3 L1355.2 982.2 L1352.1 978.7 L1349.3 974.9 L1346.7 970.9 L1344.5 966.6 L1342.6 962.3 L1341.1 957.9 L1340 953.5 L1339.4 949.3 L1339.1 945.3 L1339.4 941.5 L1340 938 L1341.1 934.9 L1342.6 932.3 L1344.5 930.1 L1346.7 928.4 L1349.3 927.3 L1352.1 926.8 L1355.2 926.8 L1358.4 927.4 L1361.7 928.5 L1365.1 930.3 L1368.5 932.5 L1371.8 935.2 L1375.1 938.3 L1378.1 941.8 L1380.9 945.6 L1383.5 949.6 L1385.7 953.9 L1387.6 958.2 L1389.1 962.6 L1390.2 967 L1390.9 971.2 Z" fill="#fff" stroke="#fff" stroke-width="5" />
</g>
<path d="M1360.8 992.8 L1360.6 996.5 L1359.9 1000 L1358.8 1003.1 L1357.3 1005.7 L1355.4 1007.9 L1353.2 1009.6 L1350.6 1010.7 L1347.8 1011.2 L1344.7 1011.2 L1341.5 1010.6 L1338.2 1009.5 L1334.8 1007.8 L1331.4 1005.5 L1328.1 1002.8 L1324.9 999.7 L1321.8 996.2 L1319 992.4 L1316.4 988.4 L1314.2 984.1 L1312.3 979.8 L1310.8 975.4 L1309.7 971 L1309 966.8 L1308.8 962.8 L1309 959 L1309.7 955.5 L1310.8 952.4 L1312.3 949.8 L1314.2 947.6 L1316.4 945.9 L1319 944.8 L1321.8 944.3 L1324.9 944.3 L1328.1 944.9 L1331.4 946 L1334.8 947.8 L1338.2 950 L1341.5 952.7 L1344.7 955.8 L1347.8 959.3 L1350.6 963.1 L1353.2 967.1 L1355.4 971.4 L1357.3 975.7 L1358.8 980.1 L1359.9 984.5 L1360.6 988.7 Z" fill="none" stroke="#fff" stroke-width="5" />
<path d="M774.7 1225.4 L774.5 1229.2 L773.9 1232.7 L772.8 1235.7 L771.3 1238.4 L769.4 1240.6 L767.1 1242.2 L764.6 1243.3 L761.8 1243.9 L758.7 1243.9 L755.5 1243.3 L752.2 1242.1 L748.8 1240.4 L745.4 1238.2 L742 1235.5 L738.8 1232.4 L735.8 1228.9 L732.9 1225.1 L730.4 1221 L728.2 1216.8 L726.3 1212.4 L724.8 1208 L723.7 1203.7 L723 1199.4 L722.8 1195.4 L723 1191.6 L723.7 1188.1 L724.8 1185.1 L726.3 1182.4 L728.2 1180.2 L730.4 1178.6 L732.9 1177.5 L735.8 1176.9 L738.8 1176.9 L742 1177.5 L745.4 1178.7 L748.8 1180.4 L752.2 1182.6 L755.5 1185.3 L758.7 1188.4 L761.8 1191.9 L764.6 1195.7 L767.1 1199.8 L769.4 1204 L771.3 1208.4 L772.8 1212.8 L773.9 1217.1 L774.5 1221.4 Z" fill="#bf7a2c" stroke="none" stroke-width="5" />
<clipPath id="c5"><path d="M774.7 1225.4 L774.5 1229.2 L773.9 1232.7 L772.8 1235.7 L771.3 1238.4 L769.4 1240.6 L767.1 1242.2 L764.6 1243.3 L761.8 1243.9 L758.7 1243.9 L755.5 1243.3 L752.2 1242.1 L748.8 1240.4 L745.4 1238.2 L742 1235.5 L738.8 1232.4 L735.8 1228.9 L732.9 1225.1 L730.4 1221 L728.2 1216.8 L726.3 1212.4 L724.8 1208 L723.7 1203.7 L723 1199.4 L722.8 1195.4 L723 1191.6 L723.7 1188.1 L724.8 1185.1 L726.3 1182.4 L728.2 1180.2 L730.4 1178.6 L732.9 1177.5 L735.8 1176.9 L738.8 1176.9 L742 1177.5 L745.4 1178.7 L748.8 1180.4 L752.2 1182.6 L755.5 1185.3 L758.7 1188.4 L761.8 1191.9 L764.6 1195.7 L767.1 1199.8 L769.4 1204 L771.3 1208.4 L772.8 1212.8 L773.9 1217.1 L774.5 1221.4 Z"/></clipPath><g clip-path="url(#c5)">
<path d="M805.1 1207.9 L804.8 1211.7 L804.2 1215.2 L803.1 1218.2 L801.6 1220.9 L799.7 1223.1 L797.4 1224.7 L794.9 1225.8 L792.1 1226.4 L789 1226.4 L785.8 1225.8 L782.5 1224.6 L779.1 1222.9 L775.7 1220.7 L772.4 1218 L769.1 1214.9 L766.1 1211.4 L763.3 1207.6 L760.7 1203.5 L758.5 1199.3 L756.6 1194.9 L755.1 1190.5 L754 1186.2 L753.3 1181.9 L753.1 1177.9 L753.3 1174.1 L754 1170.6 L755.1 1167.6 L756.6 1164.9 L758.5 1162.7 L760.7 1161.1 L763.3 1160 L766.1 1159.4 L769.1 1159.4 L772.4 1160 L775.7 1161.2 L779.1 1162.9 L782.5 1165.1 L785.8 1167.8 L789 1170.9 L792.1 1174.4 L794.9 1178.2 L797.4 1182.3 L799.7 1186.5 L801.6 1190.9 L803.1 1195.3 L804.2 1199.6 L804.8 1203.9 Z" fill="#fff" stroke="#fff" stroke-width="5" />
</g>
<path d="M774.7 1225.4 L774.5 1229.2 L773.9 1232.7 L772.8 1235.7 L771.3 1238.4 L769.4 1240.6 L767.1 1242.2 L764.6 1243.3 L761.8 1243.9 L758.7 1243.9 L755.5 1243.3 L752.2 1242.1 L748.8 1240.4 L745.4 1238.2 L742 1235.5 L738.8 1232.4 L735.8 1228.9 L732.9 1225.1 L730.4 1221 L728.2 1216.8 L726.3 1212.4 L724.8 1208 L723.7 1203.7 L723 1199.4 L722.8 1195.4 L723 1191.6 L723.7 1188.1 L724.8 1185.1 L726.3 1182.4 L728.2 1180.2 L730.4 1178.6 L732.9 1177.5 L735.8 1176.9 L738.8 1176.9 L742 1177.5 L745.4 1178.7 L748.8 1180.4 L752.2 1182.6 L755.5 1185.3 L758.7 1188.4 L761.8 1191.9 L764.6 1195.7 L767.1 1199.8 L769.4 1204 L771.3 1208.4 L772.8 1212.8 L773.9 1217.1 L774.5 1221.4 Z" fill="none" stroke="#fff" stroke-width="5" />
<path d="M1360.8 1563.8 L1360.6 1567.5 L1359.9 1571 L1358.8 1574.1 L1357.3 1576.7 L1355.4 1578.9 L1353.2 1580.6 L1350.6 1581.7 L1347.8 1582.2 L1344.7 1582.2 L1341.5 1581.6 L1338.2 1580.5 L1334.8 1578.8 L1331.4 1576.5 L1328.1 1573.8 L1324.9 1570.7 L1321.8 1567.2 L1319 1563.4 L1316.4 1559.4 L1314.2 1555.1 L1312.3 1550.8 L1310.8 1546.4 L1309.7 1542 L1309 1537.8 L1308.8 1533.8 L1309 1530 L1309.7 1526.5 L1310.8 1523.4 L1312.3 1520.8 L1314.2 1518.6 L1316.4 1516.9 L1319 1515.8 L1321.8 1515.3 L1324.9 1515.3 L1328.1 1515.9 L1331.4 1517 L1334.8 1518.8 L1338.2 1521 L1341.5 1523.7 L1344.7 1526.8 L1347.8 1530.3 L1350.6 1534.1 L1353.2 1538.1 L1355.4 1542.4 L1357.3 1546.7 L1358.8 1551.1 L1359.9 1555.5 L1360.6 1559.7 Z" fill="#bf7a2c" stroke="none" stroke-width="5" />
<clipPath id="c6"><path d="M1360.8 1563.8 L1360.6 1567.5 L1359.9 1571 L1358.8 1574.1 L1357.3 1576.7 L1355.4 1578.9 L1353.2 1580.6 L1350.6 1581.7 L1347.8 1582.2 L1344.7 1582.2 L1341.5 1581.6 L1338.2 1580.5 L1334.8 1578.8 L1331.4 1576.5 L1328.1 1573.8 L1324.9 1570.7 L1321.8 1567.2 L1319 1563.4 L1316.4 1559.4 L1314.2 1555.1 L1312.3 1550.8 L1310.8 1546.4 L1309.7 1542 L1309 1537.8 L1308.8 1533.8 L1309 1530 L1309.7 1526.5 L1310.8 1523.4 L1312.3 1520.8 L1314.2 1518.6 L1316.4 1516.9 L1319 1515.8 L1321.8 1515.3 L1324.9 1515.3 L1328.1 1515.9 L1331.4 1517 L1334.8 1518.8 L1338.2 1521 L1341.5 1523.7 L1344.7 1526.8 L1347.8 1530.3 L1350.6 1534.1 L1353.2 1538.1 L1355.4 1542.4 L1357.3 1546.7 L1358.8 1551.1 L1359.9 1555.5 L1360.6 1559.7 Z"/></clipPath><g clip-path="url(#c6)">
<path d="M1391.1 1546.2 L1390.9 1550 L1390.2 1553.5 L1389.1 1556.6 L1387.6 1559.2 L1385.7 1561.4 L1383.5 1563.1 L1380.9 1564.2 L1378.1 1564.7 L1375.1 1564.7 L1371.8 1564.1 L1368.5 1563 L1365.1 1561.2 L1361.7 1559 L1358.4 1556.3 L1355.2 1553.2 L1352.1 1549.7 L1349.3 1545.9 L1346.7 1541.9 L1344.5 1537.6 L1342.6 1533.3 L1341.1 1528.9 L1340 1524.5 L1339.4 1520.3 L1339.1 1516.2 L1339.4 1512.5 L1340 1509 L1341.1 1505.9 L1342.6 1503.3 L1344.5 1501.1 L1346.7 1499.4 L1349.3 1498.3 L1352.1 1497.8 L1355.2 1497.8 L1358.4 1498.4 L1361.7 1499.5 L1365.1 1501.2 L1368.5 1503.5 L1371.8 1506.2 L1375.1 1509.3 L1378.1 1512.8 L1380.9 1516.6 L1383.5 1520.6 L1385.7 1524.9 L1387.6 1529.2 L1389.1 1533.6 L1390.2 1538 L1390.9 1542.2 Z" fill="#fff" stroke="#fff" stroke-width="5" />
</g>
<path d="M1360.8 1563.8 L1360.6 1567.5 L1359.9 1571 L1358.8 1574.1 L1357.3 1576.7 L1355.4 1578.9 L1353.2 1580.6 L1350.6 1581.7 L1347.8 1582.2 L1344.7 1582.2 L1341.5 1581.6 L1338.2 1580.5 L1334.8 1578.8 L1331.4 1576.5 L1328.1 1573.8 L1324.9 1570.7 L1321.8 1567.2 L1319 1563.4 L1316.4 1559.4 L1314.2 1555.1 L1312.3 1550.8 L1310.8 1546.4 L1309.7 1542 L1309 1537.8 L1308.8 1533.8 L1309 1530 L1309.7 1526.5 L1310.8 1523.4 L1312.3 1520.8 L1314.2 1518.6 L1316.4 1516.9 L1319 1515.8 L1321.8 1515.3 L1324.9 1515.3 L1328.1 1515.9 L1331.4 1517 L1334.8 1518.8 L1338.2 1521 L1341.5 1523.7 L1344.7 1526.8 L1347.8 1530.3 L1350.6 1534.1 L1353.2 1538.1 L1355.4 1542.4 L1357.3 1546.7 L1358.8 1551.1 L1359.9 1555.5 L1360.6 1559.7 Z" fill="none" stroke="#fff" stroke-width="5" />
<path d="M778.7 641 C778.7 631.6 785.3 627.8 793.5 632.5 L1274.4 910.2 C1290.6 919.5 1303.8 942.4 1303.8 961.2 L1303.8 982.7 C1303.8 989.8 1298.8 992.7 1292.5 989.2 L801.2 705.5 C788.8 698.3 778.7 680.9 778.7 666.5 Z" fill="#bf7a2c" stroke="none" stroke-width="5" />
<clipPath id="c7"><path d="M778.7 641 C778.7 631.6 785.3 627.8 793.5 632.5 L1274.4 910.2 C1290.6 919.5 1303.8 942.4 1303.8 961.2 L1303.8 982.7 C1303.8 989.8 1298.8 992.7 1292.5 989.2 L801.2 705.5 C788.8 698.3 778.7 680.9 778.7 666.5 Z"/></clipPath><g clip-path="url(#c7)">
<path d="M829.2 611.9 C829.2 602.5 835.8 598.7 843.9 603.4 L1324.8 881 C1341.1 890.4 1354.3 913.2 1354.3 932 L1354.3 958 C1354.3 965.2 1349.2 968.1 1343 964.5 L844.4 676.6 C836 671.8 829.2 660 829.2 650.4 Z" fill="#fff" stroke="#fff" stroke-width="5" />
</g>
<path d="M778.7 641 C778.7 631.6 785.3 627.8 793.5 632.5 L1274.4 910.2 C1290.6 919.5 1303.8 942.4 1303.8 961.2 L1303.8 982.7 C1303.8 989.8 1298.8 992.7 1292.5 989.2 L801.2 705.5 C788.8 698.3 778.7 680.9 778.7 666.5 Z" fill="none" stroke="#fff" stroke-width="5" />
<path d="M720 835.6 C720 826.2 726.6 822.4 734.7 827.1 L745.6 833.4 C754.3 838.4 761.2 850.5 761.2 860.4 L761.2 959.4 C761.2 968.8 754.6 972.6 746.5 967.9 L735.6 961.6 C727 956.6 720 944.5 720 934.6 Z" fill="#bf7a2c" stroke="none" stroke-width="5" />
<path d="M720 835.6 C720 826.2 726.6 822.4 734.7 827.1 L745.6 833.4 C754.3 838.4 761.2 850.5 761.2 860.4 L761.2 959.4 C761.2 968.8 754.6 972.6 746.5 967.9 L735.6 961.6 C727 956.6 720 944.5 720 934.6 Z" fill="none" stroke="#fff" stroke-width="5" />
<path d="M1184.7 1324.4 C1184.7 1315 1191.3 1311.2 1199.4 1315.9 L1209.8 1321.9 C1218.4 1326.9 1225.4 1339 1225.4 1348.9 L1225.4 1545.4 C1225.4 1549.8 1222.3 1551.6 1218.5 1549.4 L1200.3 1538.9 C1191.7 1533.9 1184.7 1521.8 1184.7 1511.9 Z" fill="#bf7a2c" stroke="none" stroke-width="5" />
<path d="M1184.7 1324.4 C1184.7 1315 1191.3 1311.2 1199.4 1315.9 L1209.8 1321.9 C1218.4 1326.9 1225.4 1339 1225.4 1348.9 L1225.4 1545.4 C1225.4 1549.8 1222.3 1551.6 1218.5 1549.4 L1200.3 1538.9 C1191.7 1533.9 1184.7 1521.8 1184.7 1511.9 Z" fill="none" stroke="#fff" stroke-width="5" />
<path d="M1247.5 1360.7 C1247.5 1351.3 1254.1 1347.5 1262.2 1352.2 L1272.4 1358 C1281 1363 1288 1375.1 1288 1385 L1288 1544.5 C1288 1553.9 1281.4 1557.7 1273.2 1553 L1263.1 1547.2 C1254.5 1542.2 1247.5 1530.1 1247.5 1520.2 Z" fill="#bf7a2c" stroke="none" stroke-width="5" />
<path d="M1247.5 1360.7 C1247.5 1351.3 1254.1 1347.5 1262.2 1352.2 L1272.4 1358 C1281 1363 1288 1375.1 1288 1385 L1288 1544.5 C1288 1553.9 1281.4 1557.7 1273.2 1553 L1263.1 1547.2 C1254.5 1542.2 1247.5 1530.1 1247.5 1520.2 Z" fill="none" stroke="#fff" stroke-width="5" />
<path d="M1287.9 1528 L1287.9 1548 C1287.9 1556 1283 1560 1276 1558 L1268 1555 Z" fill="#fff" stroke="#fff" stroke-width="3" />
<path d="M1140.7 1692 C1152 1716 1190 1752 1226 1774.5 L1220 1902 C1170 1850 1152 1790 1140.7 1692 Z" fill="#2c70c0" stroke="none" stroke-width="5" />
<path d="M1273.75 1361.25 C1162.4 1489.6 1127 1551 1127 1621 C1127 1650 1132 1672 1140.7 1692 C1152 1716 1190 1752 1226 1774.5 L1277 1796 C1237 1775 1193 1732 1176.4 1711.2 C1158 1694 1136.5 1655 1136.5 1621 C1136.5 1555 1174 1494.8 1282.5 1371.9 Z" fill="#2c70c0" stroke="none" stroke-width="5" />
<path d="M1282.5 1371.9 C1174 1494.8 1136.5 1555 1136.5 1621 C1136.5 1655 1158 1694 1176.4 1711.2 C1199.4 1655.9 1248.2 1577.8 1285.4 1531 L1285.4 1385 L1283.5 1373 Z" fill="#2c70c0" stroke="none" stroke-width="5" />
<clipPath id="c8"><path d="M677.8 584.2 C677.8 558.2 696 547.7 718.5 560.7 L1568 1051.2 C1589.5 1063.6 1607 1093.8 1607 1118.7 L1607 1117.7 C1607 1119.4 1605.8 1120 1604.4 1119.2 L1425.1 1015.7 L1425.1 1199.5 L1607 1304.5 L1607 1327.7 L1425.1 1222.7 L1425.1 1407 L1607 1512 L1607 1532 C1607 1533.7 1605.8 1534.3 1604.4 1533.5 L1374.6 1400.9 L1374.6 1587.7 L1605.3 1720.8 C1606.2 1721.4 1607 1722.7 1607 1723.8 L1607 1729.9 C1607 1749.8 1593 1757.8 1575.8 1747.9 L721.1 1254.4 C697.1 1240.6 677.8 1207 677.8 1179.4 Z M1100 1300 L1300 1300 L1300 1400 L1100 1400 Z"/></clipPath><g clip-path="url(#c8)">
<path d="M1273.75 1361.25 C1162.4 1489.6 1127 1551 1127 1621" fill="none" stroke="#fff" stroke-width="5" />
</g>
<path d="M1282.5 1371.9 C1174 1494.8 1136.5 1555 1136.5 1621 C1136.5 1655 1158 1694 1176.4 1711.2" fill="none" stroke="#fff" stroke-width="5" />
<path d="M1142.5 1695.5 C1153 1717 1190 1752 1226 1774.5" fill="none" stroke="#fff" stroke-width="5" stroke-linecap="butt"/>
<line x1="1273.8" y1="1361.2" x2="1283.5" y2="1372.5" stroke="#fff" stroke-width="5" stroke-linecap="round" />
<path d="M1226 1774.5 L1268.8 1801 L1268.8 1941 L1222.5 1913.5 Z" fill="#2c70c0" stroke="#fff" stroke-width="5" />
<path d="M1268.8 1801 L1283 1796 L1283 1936 L1268.8 1941 Z" fill="#2c70c0" stroke="#fff" stroke-width="5" />
</svg></body></html>
